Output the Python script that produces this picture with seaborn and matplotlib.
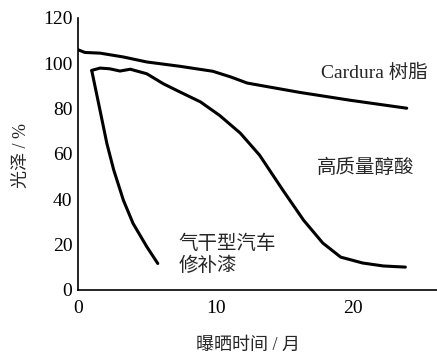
import numpy as np
import pandas as pd
import seaborn as sns
import matplotlib.pyplot as plt

# 数据
cardura_x = [0, 0.5, 1.6, 3.3, 5.0, 7.4, 9.8, 11.1, 12.3, 13.5, 16.1, 19.8, 23.9]
cardura_y = [106, 104.8, 104.5, 102.8, 100.6, 98.7, 96.5, 94, 91.3, 90, 87.2, 83.7, 80.2]

alkyd_x = [1.0, 1.6, 2.3, 3.05, 3.8, 5.0, 6.2, 7.4, 8.9, 10.3, 11.8, 13.2,
           14.9, 16.4, 17.8, 19.1, 20.7, 22.2, 23.8]
alkyd_y = [96.9, 97.9, 97.6, 96.6, 97.4, 95.4, 91, 87.4, 83, 77, 69.2, 59.5,
           44, 30.8, 20.7, 14.5, 11.9, 10.6, 10.1]

airdry_x = [1.0, 1.6, 2.1, 2.6, 3.3, 4.0, 5.0, 5.8]
airdry_y = [96.8, 79.3, 64.6, 52.9, 39.6, 29.4, 19.1, 11.7]

xticks = [0, 10, 20]
yticks = [0, 20, 40, 60, 80, 100, 120]

sns.set_style("white")
plt.rcParams['font.family'] = ['Liberation Serif', 'Noto Sans CJK SC']

df = pd.concat([
    pd.DataFrame({'t': cardura_x, 'g': cardura_y, 's': 'Cardura'}),
    pd.DataFrame({'t': alkyd_x, 'g': alkyd_y, 's': 'alkyd'}),
    pd.DataFrame({'t': airdry_x, 'g': airdry_y, 's': 'airdry'}),
])

fig = plt.figure(figsize=(4.37, 3.54), dpi=100)
ax = fig.add_axes([78 / 437, 64 / 354, 1 - 78 / 437, (290 - 18) / 354])
sns.lineplot(data=df, x='t', y='g', units='s', estimator=None, sort=False,
             color='black', linewidth=2.2, ax=ax)

ax.set_xlim(0, 26.1)
ax.set_ylim(0, 120)
ax.set_xticks(xticks)
ax.set_yticks(yticks)
ax.tick_params(direction='in', length=5, width=1, labelsize=14, colors='black')
ax.tick_params(axis='y', pad=4)
ax.tick_params(axis='x', pad=7)
for s in ['top', 'right']:
    ax.spines[s].set_visible(False)
for s in ['left', 'bottom']:
    ax.spines[s].set_color('black')
    ax.spines[s].set_linewidth(1.2)

ax.set_xlabel('曝晒时间 / 月', fontsize=13)
ax.set_ylabel('光泽 / %', fontsize=13)
ax.xaxis.set_label_coords(0.473, -0.173)
ax.yaxis.set_label_coords(-0.134, 0.496)

ax.text(17.7, 95.8, 'Cardura 树脂', fontsize=14, va='center', ha='left')
ax.text(17.4, 53.7, '高质量醇酸', fontsize=14, va='center', ha='left')
ax.text(7.3, 15.6, '气干型汽车\n修补漆', fontsize=14, va='center', ha='left', linespacing=1.3)

plt.savefig('out.png', dpi=100)
